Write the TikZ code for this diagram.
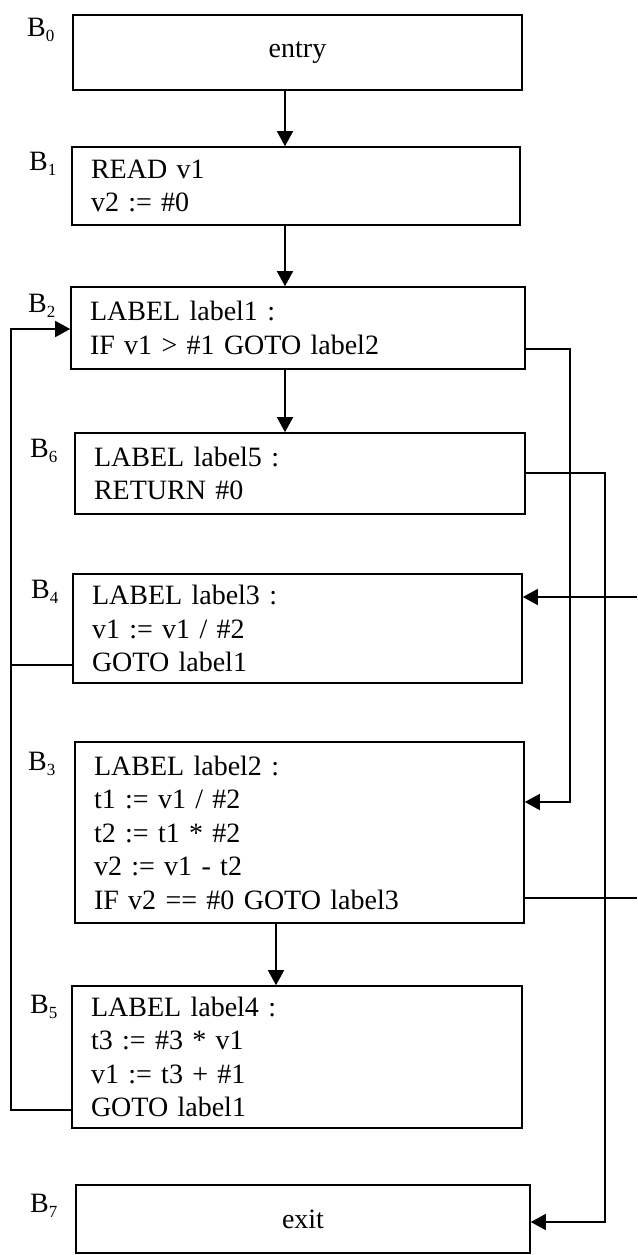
\documentclass[tikz,border=0pt]{standalone}
\usepackage{fontspec}
\setmainfont[WordSpace=0.75]{Liberation Serif}
\usetikzlibrary{arrows.meta,calc}
\newcommand{\blk}[1]{B\raisebox{-5pt}{\fontsize{17}{17}\selectfont #1}}
\begin{document}
\begin{tikzpicture}[x=1pt,y=-1pt,
  blk/.style={draw, line width=1.6pt, inner xsep=19pt, inner ysep=0pt, align=left,
    font=\fontsize{28}{33.5}\selectfont, anchor=center},
  arr/.style={line width=1.5pt, -{Triangle[length=15pt,width=16pt]}},
  ln/.style={line width=1.5pt},
  blab/.style={anchor=base west, inner sep=0pt, font=\fontsize{28}{28}\selectfont}]
\useasboundingbox (0,0) rectangle (637,1255);

\node[blk, text width=411pt, minimum height=75pt, align=center] (B0) at (297.5,52.5) {entry};
\node[blk, text width=410pt, minimum height=78pt] (B1) at (296,186) {READ v1\\v2 := \#0};
\node[blk, text width=416pt, minimum height=82pt] (B2) at (298,328) {LABEL label1 :\\IF v1 > \#1 GOTO label2};
\node[blk, text width=412pt, minimum height=81pt] (B6) at (300,473.5) {LABEL label5 :\\RETURN \#0};
\node[blk, text width=411pt, minimum height=109pt] (B4) at (297.5,628.5) {LABEL label3 :\\v1 := v1 / \#2\\GOTO label1};
\node[blk, text width=411pt, minimum height=181pt] (B3) at (299.5,832.5) {LABEL label2 :\\t1 := v1 / \#2\\t2 := t1 * \#2\\v2 := v1 - t2\\IF v2 == \#0 GOTO label3};
\node[blk, text width=412pt, minimum height=142pt] (B5) at (297,1057) {LABEL label4 :\\t3 := \#3 * v1\\v1 := t3 + \#1\\GOTO label1};
\node[blk, text width=416pt, minimum height=68pt, align=center] (B7) at (303,1219) {exit};

\node[blab] (L0) at (27,37) {\blk{0}};
\node[blab] (L1) at (29,170) {\blk{1}};
\node[blab] (L2) at (28,312) {\blk{2}};
\node[blab] (L6) at (30,457) {\blk{6}};
\node[blab] (L4) at (31,598) {\blk{4}};
\node[blab] (L3) at (28,770) {\blk{3}};
\node[blab] (L5) at (30,1013) {\blk{5}};
\node[blab] (L7) at (30,1212) {\blk{7}};

\coordinate (cx) at (285,0);
\coordinate (cx2) at (276,0);
\draw[arr] (cx |- B0.south) -- (cx |- B1.north);
\draw[arr] (cx |- B1.south) -- (cx |- B2.north);
\draw[arr] (cx |- B2.south) -- (cx |- B6.north);
\draw[arr] (cx2 |- B3.south) -- (cx2 |- B5.north);

\draw[arr] (B2.east |- 0,349) -- (570,349) -- (570,802) -- (B3.east |- 0,802);
\draw[arr] (B6.east |- 0,473) -- (605,473) -- (605,1222) -- (B7.east |- 0,1222);

\coordinate (r1) at (637,898);
\coordinate (r2) at (637,597);
\draw[ln] (B3.east |- r1) -- (r1);
\draw[arr] (r2) -- (B4.east |- r2);

\coordinate (lx) at (11,0);
\draw[ln] (B4.west |- 0,665) -- (lx |- 0,665);
\draw[arr] (B5.west |- 0,1110) -- (lx |- 0,1110) -- (lx |- 0,329) -- (B2.west |- 0,329);
\end{tikzpicture}
\end{document}
